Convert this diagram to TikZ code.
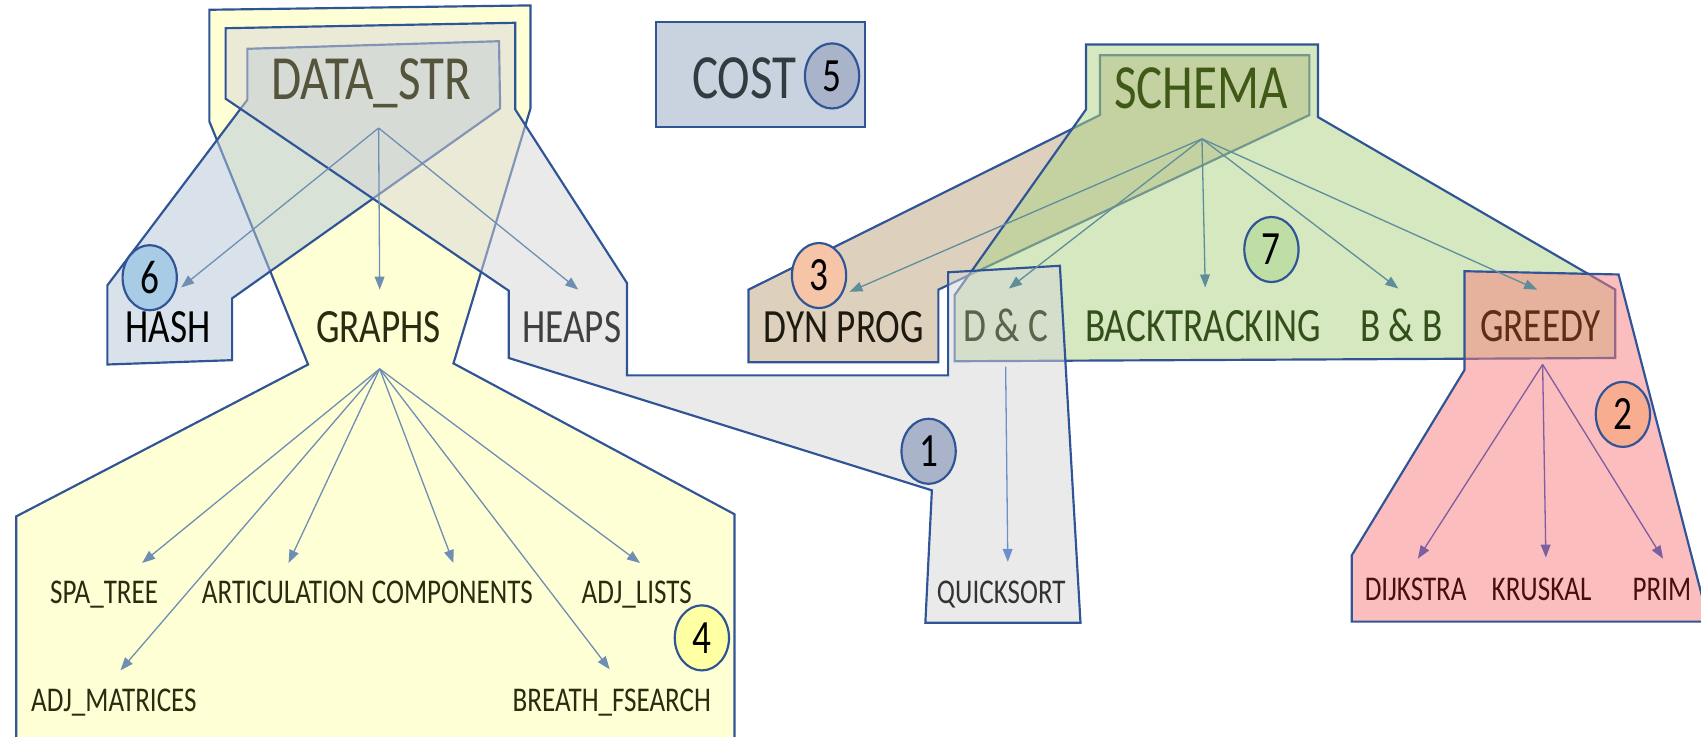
\documentclass[tikz,border=0pt]{standalone}
\usepackage{fontspec}
\setmainfont{Carlito}[FakeStretch=0.78]
\usetikzlibrary{arrows.meta,shapes.geometric}

\definecolor{rim}{HTML}{2F5597}
\definecolor{yel}{HTML}{FFFFD6}
\definecolor{bluefill}{RGB}{180,198,214}
\definecolor{greyfill}{RGB}{214,214,214}
\definecolor{tanfill}{RGB}{187,163,123}
\definecolor{greenfill}{RGB}{175,211,136}
\definecolor{redfill}{RGB}{247,123,123}
\definecolor{costfill}{HTML}{C9D3DF}
\definecolor{dstext}{HTML}{55553C}
\definecolor{costtext}{HTML}{333A40}
\definecolor{sctext}{HTML}{3F5A17}
\definecolor{yeltext}{HTML}{2B2B10}
\definecolor{heaptext}{HTML}{404040}
\definecolor{dyntext}{HTML}{1F1A10}
\definecolor{dctext}{HTML}{56664A}
\definecolor{grtext}{HTML}{33501A}
\definecolor{greedytext}{HTML}{5C2E12}
\definecolor{redtext}{HTML}{4A0E0E}
\definecolor{qstext}{HTML}{333333}
\definecolor{dsarrow}{HTML}{6E8FB3}
\definecolor{scarrow}{HTML}{5E8E9A}
\definecolor{qsarrow}{HTML}{6F8FCC}
\definecolor{gdarrow}{HTML}{7C5FA0}
\definecolor{b1}{HTML}{A9B4CB}
\definecolor{b2}{HTML}{F8AC90}
\definecolor{b3}{HTML}{F6C5A8}
\definecolor{b4}{HTML}{FFFFA3}
\definecolor{b5}{HTML}{A9B4CB}
\definecolor{b6}{HTML}{A8CBE6}
\definecolor{b7}{HTML}{BFDEA5}

\tikzset{
  region/.style={draw=rim, line width=1pt, line join=miter, fill opacity=0.5},
  lbl/.style={inner sep=0pt, anchor=base},
  big/.style={lbl, font=\fontsize{29}{29}\selectfont},
  mid/.style={lbl, font=\fontsize{22}{22}\selectfont},
  small/.style={lbl, font=\fontsize{16}{16}\selectfont},
  badge/.style={ellipse, draw=rim, line width=1pt, inner sep=0pt,
    minimum width=25pt, minimum height=30pt,
    font=\fontsize{22}{22}\selectfont, text=black},
  link/.style={-{Triangle[length=6pt,width=4.5pt]}, line width=0.6pt},
}

\begin{document}
\begin{tikzpicture}[x=0.5pt,y=-0.5pt]
\useasboundingbox (0,0) rectangle (1568,679);
\clip (0,0) rectangle (1568,679);

% data structures: graphs region
\filldraw[draw=rim, fill=yel, line width=1pt, line join=miter]
  (193,9) -- (489,5) -- (489,100) -- (418,335) -- (677,474) -- (677,700)
  -- (15,700) -- (15,476) -- (284,336) -- (193,112) -- cycle;
% hashing region
\filldraw[region, fill=bluefill]
  (228,45) -- (460,38) -- (461,100) -- (214,275) -- (214,332)
  -- (99,336) -- (99,263) -- (228,92) -- cycle;
% dynamic programming region
\filldraw[region, fill=tanfill]
  (1014,51) -- (1207,51) -- (1207,106) -- (865,267) -- (865,334)
  -- (690,334) -- (690,267) -- (1014,106) -- cycle;
% algorithm schemas region
\filldraw[region, fill=greenfill, fill opacity=0.53]
  (1001,41) -- (1215,41) -- (1215,108) -- (1489,267) -- (1489,330)
  -- (880,333) -- (880,272) -- (1001,101) -- cycle;
% heaps / sorting region
\filldraw[region, fill=greyfill]
  (208,26) -- (475,21) -- (475,101) -- (578,261) -- (578,346)
  -- (874,346) -- (874,251) -- (977,245) -- (996,574) -- (853,574)
  -- (859,452) -- (469,330) -- (469,268) -- (208,91) -- cycle;
% greedy region
\filldraw[region, fill=redfill]
  (1350,250) -- (1492,253) -- (1575,573) -- (1246,573) -- (1246,512)
  -- (1350,341) -- cycle;
% cost box
\filldraw[draw=rim, fill=costfill, line width=1pt] (605,20) rectangle (797,117);

% labels
\node[big, text=dstext] (datastr) at (342,92) {DATA\_STR};
\node[big, text=costtext] (cost) at (686,91) {COST};
\node[big, text=sctext] (schema) at (1107,100) {SCHEMA};

\node[mid, text=black] (hash) at (155,316) {HASH};
\node[mid, text=yeltext] (graphs) at (349,316) {GRAPHS};
\node[mid, text=heaptext] (heaps) at (527,316) {HEAPS};
\node[mid, text=dyntext] (dynprog) at (778,316) {DYN PROG};
\node[mid, text=dctext] (dandc) at (927,315) {D \& C};
\node[mid, text=grtext] (backtr) at (1109,315) {BACKTRACKING};
\node[mid, text=grtext] (bandb) at (1292,315) {B \& B};
\node[mid, text=greedytext] (greedy) at (1420,315) {GREEDY};

\node[small, text=yeltext] (spatree) at (96,556) {SPA\_TREE};
\node[small, text=yeltext] (artic) at (261,556) {ARTICULATION};
\node[small, text=yeltext] (comps) at (417,556) {COMPONENTS};
\node[small, text=yeltext] (adjlists) at (587,556) {ADJ\_LISTS};
\node[small, text=yeltext] (adjmat) at (105,656) {ADJ\_MATRICES};
\node[small, text=yeltext] (bfs) at (564,656) {BREATH\_FSEARCH};
\node[small, text=qstext] (qsort) at (923,556) {QUICKSORT};
\node[small, text=redtext] (dijkstra) at (1305,554) {DIJKSTRA};
\node[small, text=redtext] (kruskal) at (1421,554) {KRUSKAL};
\node[small, text=redtext] (prim) at (1532,554) {PRIM};

% numbered badges
\node[badge, fill=b1] (n1) at (856,416) {1};
\node[badge, fill=b2] (n2) at (1496,382) {2};
\node[badge, fill=b3] (n3) at (755,254) {3};
\node[badge, fill=b4] (n4) at (647,588) {4};
\node[badge, fill=b5] (n5) at (767,70) {5};
\node[badge, fill=b6] (n6) at (138,256) {6};
\node[badge, fill=b7] (n7) at (1172,230) {7};

% arrow ends
\coordinate (dsroot) at (349,118);
\coordinate (tohash) at (167,265);
\coordinate (tographs) at (350,267);
\coordinate (toheaps) at (533,267);
\coordinate (grroot) at (350,340);
\coordinate (tospa) at (131,519);
\coordinate (toart) at (266,519);
\coordinate (tocomp) at (418,519);
\coordinate (tolists) at (590,519);
\coordinate (tomat) at (111,618);
\coordinate (tobfs) at (562,617);
\coordinate (scroot) at (1108,128);
\coordinate (todyn) at (783,269);
\coordinate (todc) at (930,266);
\coordinate (tobt) at (1111,265);
\coordinate (tobb) at (1289,266);
\coordinate (togreedy) at (1417,267);
\coordinate (dcroot) at (927,338);
\coordinate (toqs) at (929,518);
\coordinate (gdroot) at (1422,336);
\coordinate (todij) at (1307,515);
\coordinate (tokru) at (1425,514);
\coordinate (toprim) at (1533,515);

\draw[link, dsarrow] (dsroot) -- (tohash);
\draw[link, dsarrow] (dsroot) -- (tographs);
\draw[link, dsarrow] (dsroot) -- (toheaps);
\foreach \t in {tospa,toart,tocomp,tolists,tomat,tobfs}
  \draw[link, dsarrow] (grroot) -- (\t);
\foreach \t in {todyn,todc,tobt,tobb,togreedy}
  \draw[link, scarrow] (scroot) -- (\t);
\draw[link, qsarrow] (dcroot) -- (toqs);
\foreach \t in {todij,tokru,toprim}
  \draw[link, gdarrow] (gdroot) -- (\t);
\end{tikzpicture}
\end{document}
